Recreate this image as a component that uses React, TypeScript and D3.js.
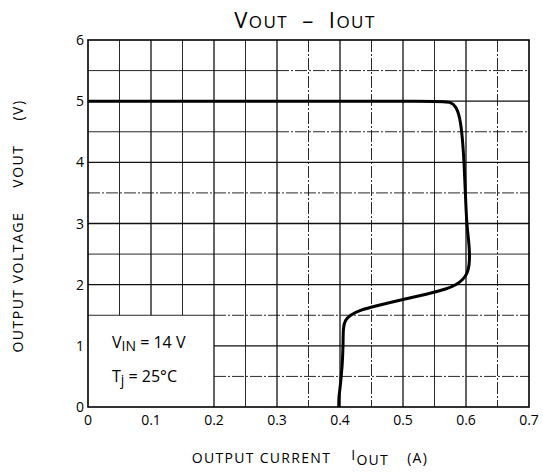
import React from "react";
import * as d3 from "d3";

const currentA = [0, 0.3, 0.56, 0.575, 0.584, 0.59, 0.594, 0.597, 0.599, 0.601, 0.604, 0.606, 0.605, 0.602, 0.595, 0.585, 0.57, 0.54, 0.5, 0.46, 0.43, 0.416, 0.408, 0.405, 0.405, 0.404, 0.402, 0.4, 0.398, 0.398];
const voltageV = [5, 5, 5, 4.99, 4.92, 4.75, 4.45, 4.0, 3.5, 3.0, 2.75, 2.5, 2.3, 2.18, 2.08, 2.0, 1.93, 1.85, 1.76, 1.66, 1.58, 1.5, 1.42, 1.3, 1.05, 0.75, 0.5, 0.3, 0.15, 0];
const xTicks = [0, 0.1, 0.2, 0.3, 0.4, 0.5, 0.6, 0.7];
const yTicks = [0, 1, 2, 3, 4, 5, 6];
const xGrid = [0.05, 0.1, 0.15, 0.2, 0.25, 0.3, 0.35, 0.4, 0.45, 0.5, 0.55, 0.6, 0.65];
const yGrid = [0.5, 1, 1.5, 2, 2.5, 3, 3.5, 4, 4.5, 5, 5.5];
const insetX = 0.2;
const insetY = 1.5;

const FONT = "'Open Sans', 'DejaVu Sans', sans-serif";
const DASH = "12,2,2,2";

export default function App() {
  const W = 543, H = 472;
  const left = 88, right = 529, top = 40, bottom = 407;
  const x = d3.scaleLinear().domain([0, 0.7]).range([left, right]);
  const y = d3.scaleLinear().domain([0, 6]).range([bottom, top]);
  const pts = currentA.map((c, i) => [c, voltageV[i]] as [number, number]);
  const line = d3.line<[number, number]>().x(d => x(d[0])).y(d => y(d[1])).curve(d3.curveBasis);
  const dashedX = new Set([0.35, 0.45, 0.65]);
  const dashedY = new Set([3.5, 0.5]);
  const halfDashY = new Set([5.5, 4.5, 1.5]);

  return (
    <svg width={W} height={H} style={{ position: "absolute", left: 0, top: 0, background: "#fff" }} fontFamily={FONT}>
      <rect x={0} y={0} width={W} height={H} fill="#fff" />
      {xGrid.map(g => {
        const y1 = g < insetX ? y(insetY) : y(0);
        const major = Math.abs((g * 10) - Math.round(g * 10)) < 1e-6;
        return (
          <line key={"vx" + g} x1={x(g)} x2={x(g)} y1={y(6)} y2={y1} stroke="#111"
            strokeWidth={major ? 1.3 : 0.9}
            strokeDasharray={dashedX.has(g) ? DASH : undefined} />
        );
      })}
      {yGrid.map(g => {
        const x0 = g < insetY ? x(insetX) : x(0);
        const major = Number.isInteger(g);
        if (halfDashY.has(g)) {
          const split = g === 1.5 ? insetX : 0.3;
          return (
            <g key={"hy" + g}>
              <line x1={x0} x2={x(split)} y1={y(g)} y2={y(g)} stroke="#111" strokeWidth={0.9} />
              <line x1={x(split)} x2={x(0.7)} y1={y(g)} y2={y(g)} stroke="#111" strokeWidth={0.9} strokeDasharray={DASH} />
            </g>
          );
        }
        return (
          <line key={"hy" + g} x1={x0} x2={x(0.7)} y1={y(g)} y2={y(g)} stroke="#111"
            strokeWidth={major ? 1.3 : 0.9}
            strokeDasharray={dashedY.has(g) ? DASH : undefined} />
        );
      })}
      <rect x={x(0)} y={y(6)} width={x(0.7) - x(0)} height={y(0) - y(6)} fill="none" stroke="#000" strokeWidth={1.6} />
      <path d={line(pts) || ""} fill="none" stroke="#000" strokeWidth={3} strokeLinejoin="round" />
      {xTicks.map(t => (
        <text key={"xt" + t} x={x(t)} y={bottom + 18} textAnchor="middle" fontSize={14} fill="#000">{t === 0 ? "0" : t.toFixed(1)}</text>
      ))}
      {yTicks.map(t => (
        <text key={"yt" + t} x={left - 4} y={y(t) + 5} textAnchor="end" fontSize={14} fill="#000">{t}</text>
      ))}
      <text x={305} y={28} textAnchor="middle" fontSize={22} fill="#000" letterSpacing={1.5}>
        <tspan>V</tspan><tspan fontSize={17}>OUT</tspan><tspan dx={14}>–</tspan><tspan dx={14}>I</tspan><tspan fontSize={17}>OUT</tspan>
      </text>
      <text x={310} y={463} textAnchor="middle" fontSize={14} fill="#000" letterSpacing={1.3}>
        <tspan>{"OUTPUT CURRENT"}</tspan>
        <tspan dx={20} dy={-3}>I</tspan><tspan dy={5}>OUT</tspan>
        <tspan dx={18} dy={-2}>(A)</tspan>
      </text>
      <text transform={`translate(23,226) rotate(-90)`} textAnchor="middle" fontSize={14} fill="#000" letterSpacing={1.5}>
        <tspan>{"OUTPUT VOLTAGE"}</tspan>
        <tspan dx={24}>V</tspan><tspan>OUT</tspan>
        <tspan dx={24}>(V)</tspan>
      </text>
      <text x={112} y={348} fontSize={16} fill="#000">
        <tspan>V</tspan><tspan dy={3} fontSize={14}>IN</tspan><tspan dy={-3}>{" = 14 V"}</tspan>
      </text>
      <text x={112} y={382} fontSize={16} fill="#000">
        <tspan>T</tspan><tspan dy={3} fontSize={14}>j</tspan><tspan dy={-3}>{" = 25°C"}</tspan>
      </text>
    </svg>
  );
}
